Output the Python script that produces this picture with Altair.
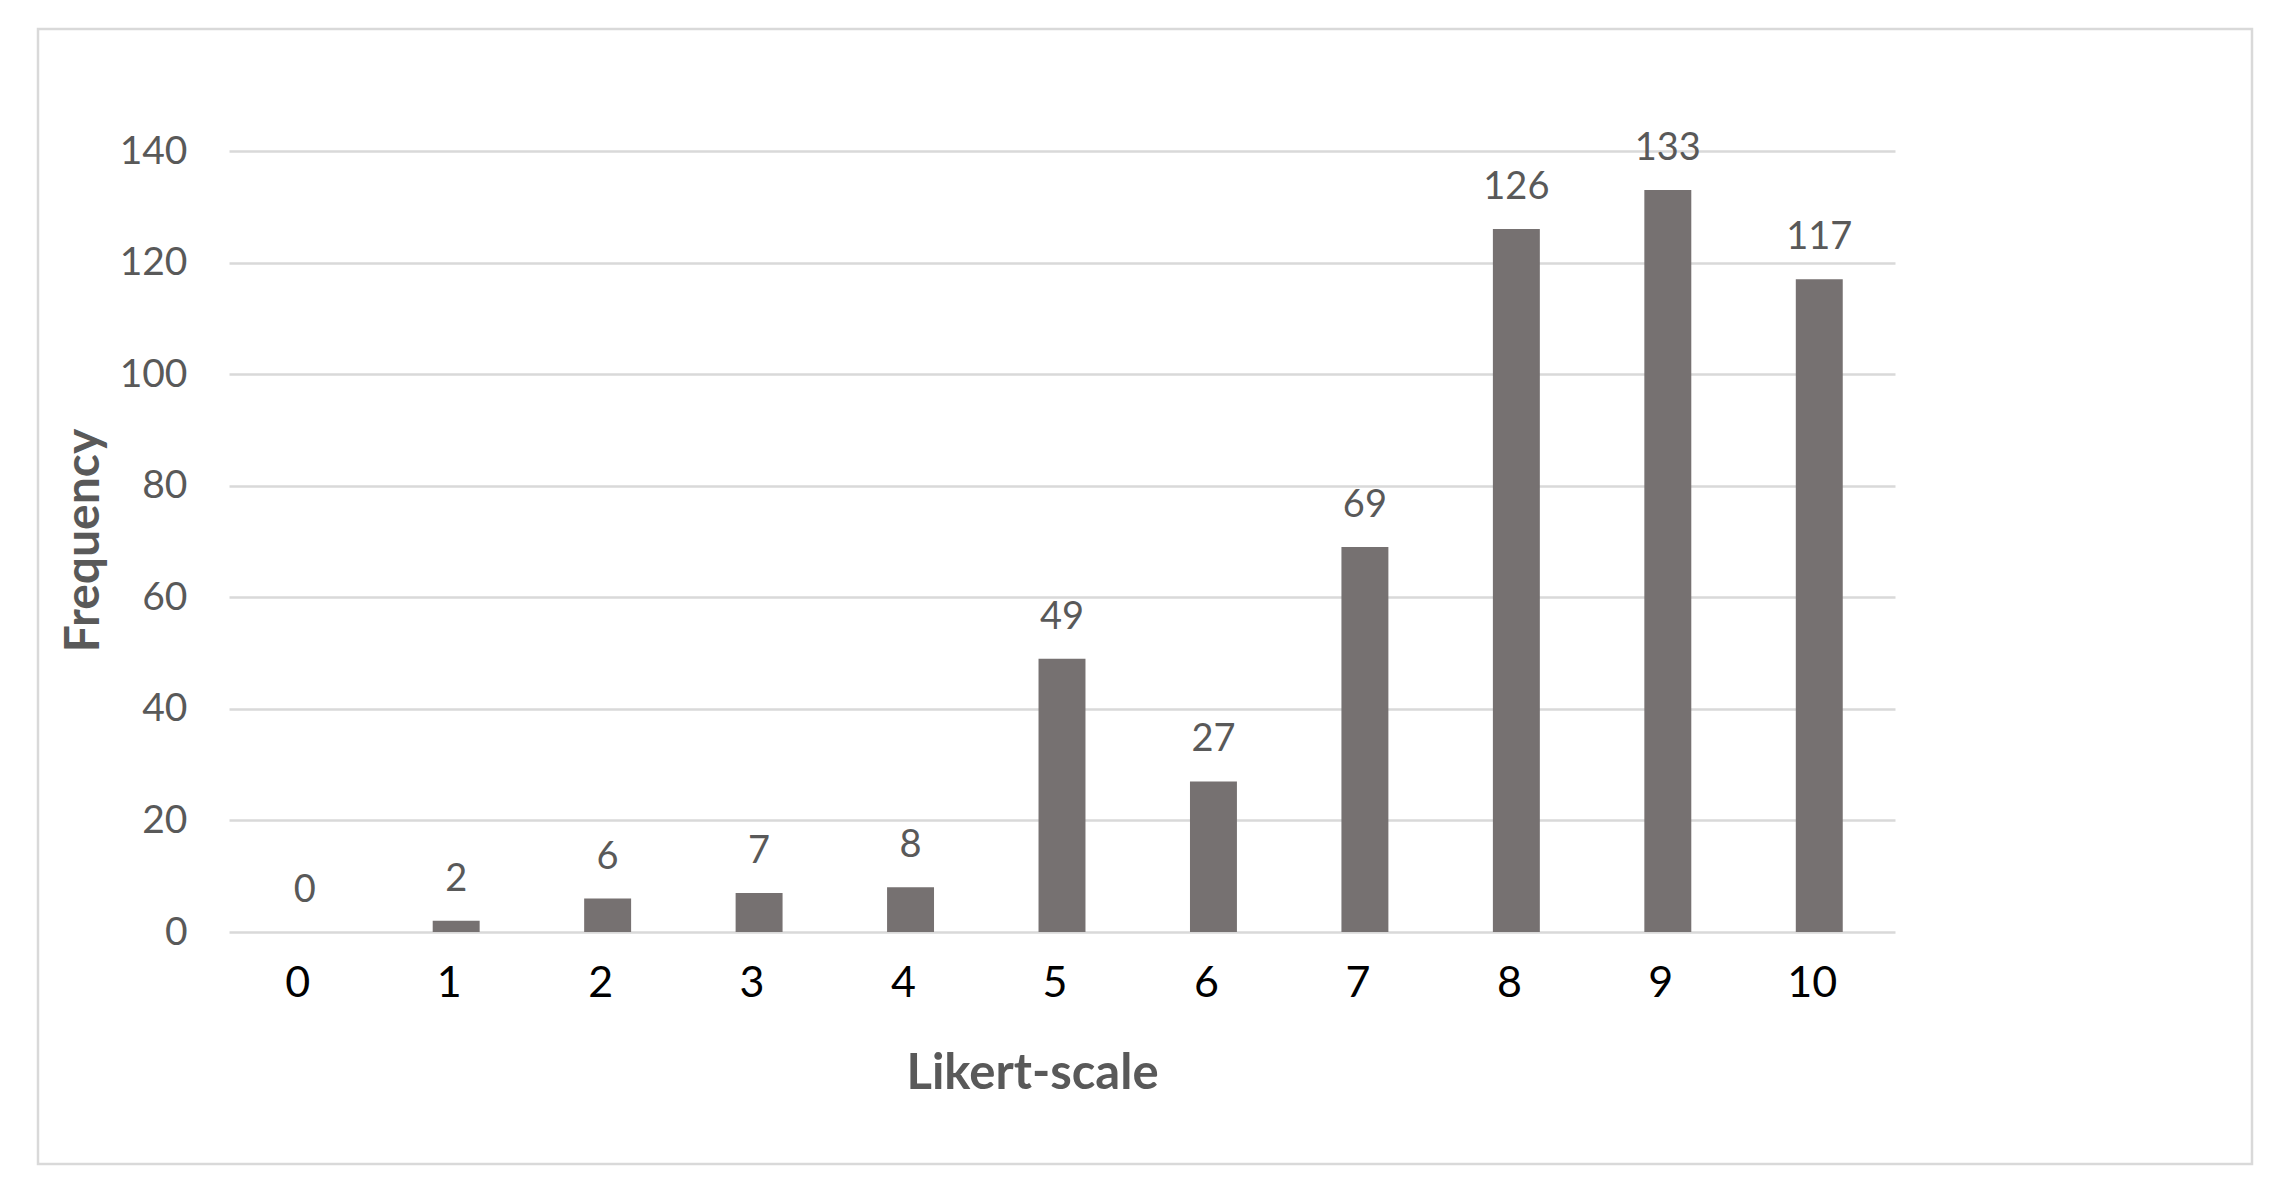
import altair as alt
import pandas as pd

# Data
categories = ["0", "1", "2", "3", "4", "5", "6", "7", "8", "9", "10"]
frequencies = [0, 2, 6, 7, 8, 49, 27, 69, 126, 133, 117]
y_ticks = [0, 20, 40, 60, 80, 100, 120, 140]

df = pd.DataFrame({"score": categories, "freq": frequencies})
frame_df = pd.DataFrame({"k": [0]})

W, H = 1666, 781
FONT = "Lato"

x_enc = alt.X(
    "score:N",
    sort=categories,
    scale=alt.Scale(paddingInner=0.69, paddingOuter=0.345),
    axis=alt.Axis(
        title="Likert-scale",
        labelAngle=0,
        labelFont=FONT,
        labelFontSize=43,
        labelColor="#000000",
        labelPadding=30,
        labelOffset=-7,
        ticks=False,
        domain=False,
        grid=False,
        titleFont=FONT,
        titleFontSize=49,
        titleFontWeight="bold",
        titleColor="#595959",
        titleBaseline="alphabetic",
        titleAlign="center",
        titleX=803,
        titleY=156,
    ),
)

y_enc = alt.Y(
    "freq:Q",
    scale=alt.Scale(domain=[0, 140], nice=False),
    axis=alt.Axis(
        values=y_ticks,
        title="Frequency",
        grid=True,
        gridColor="#d9d9d9",
        gridWidth=2.5,
        domain=False,
        ticks=False,
        labelFont=FONT,
        labelFontSize=39,
        labelColor="#595959",
        labelPadding=42,
        titleFont=FONT,
        titleFontSize=48,
        titleFontWeight="bold",
        titleColor="#595959",
        titleBaseline="alphabetic",
        titleX=-131,
        titleY=389,
    ),
)

base = alt.Chart(df)

bars = base.mark_bar(color="#767171").encode(x=x_enc, y=y_enc)

labels = base.mark_text(
    baseline="alphabetic",
    align="center",
    dy=-30,
    font=FONT,
    fontSize=38,
    color="#595959",
).encode(x=alt.X("score:N", sort=categories), y="freq:Q", text="freq:Q")

frame = alt.Chart(frame_df).mark_rect(
    fillOpacity=0, stroke="#d9d9d9", strokeWidth=2.5
).encode(
    x=alt.value(-191), x2=alt.value(2023), y=alt.value(-122), y2=alt.value(1013)
)

chart = (
    alt.layer(frame, bars, labels)
    .properties(
        width=W,
        height=H,
        autosize=alt.AutoSizeParams(type="none"),
        padding={"left": 221, "top": 143, "right": 371, "bottom": 240},
        background="#ffffff",
    )
    .configure_view(strokeWidth=0)
)

chart.save("out.html", embed_options={"renderer": "svg", "actions": False})
